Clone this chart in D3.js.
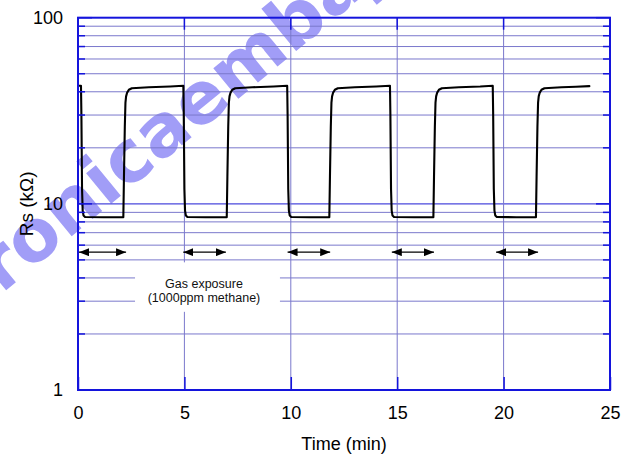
<!DOCTYPE html>
<html><head><meta charset="utf-8">
<script src="https://cdn.jsdelivr.net/npm/d3@7"></script>
<style>body{margin:0;background:#fff}svg{display:block}</style>
</head><body>
<script>
// ---- data ----
const timeMin = [
  0.00, 0.12, 0.14, 0.16, 0.19, 0.22, 0.26, 0.33, 1.20,
  2.13, 2.16, 2.20, 2.23, 2.26, 2.31, 2.39, 2.53, 3.33, 4.33, 4.95,
  4.97, 5.00, 5.03, 5.07, 5.14, 6.00,
  6.99, 7.02, 7.06, 7.09, 7.12, 7.17, 7.25, 7.39, 8.19, 9.19, 9.83,
  9.85, 9.88, 9.91, 9.95, 10.02, 10.90,
  11.81, 11.84, 11.88, 11.91, 11.94, 11.99, 12.07, 12.21, 13.01, 14.01, 14.66,
  14.68, 14.71, 14.74, 14.78, 14.85, 15.80,
  16.70, 16.73, 16.77, 16.80, 16.83, 16.88, 16.96, 17.10, 17.90, 18.90, 19.49,
  19.51, 19.54, 19.57, 19.61, 19.68, 20.60,
  21.52, 21.55, 21.59, 21.62, 21.65, 21.70, 21.78, 21.92, 22.72, 23.40, 24.03
];
const rsKOhm = [
  43.1, 43.1, 43.1, 30, 12, 9.2, 8.65, 8.5, 8.48,
  8.48, 14, 26, 35, 37.8, 39.6, 41.0, 41.8, 42.3, 42.7, 43.1,
  30, 12, 9.2, 8.65, 8.5, 8.48,
  8.48, 14, 26, 35, 37.8, 39.6, 41.0, 41.8, 42.3, 42.7, 43.1,
  30, 12, 9.2, 8.65, 8.5, 8.48,
  8.48, 14, 26, 35, 37.8, 39.6, 41.0, 41.8, 42.3, 42.7, 43.1,
  30, 12, 9.2, 8.65, 8.5, 8.48,
  8.48, 14, 26, 35, 37.8, 39.6, 41.0, 41.8, 42.3, 42.7, 43.1,
  30, 12, 9.2, 8.65, 8.5, 8.48,
  8.48, 14, 26, 35, 37.8, 39.6, 41.0, 41.8, 42.3, 42.6, 42.9
];
const exposureStart = [0, 4.9, 9.8, 14.7, 19.6];
const exposureEnd   = [2.26, 6.95, 11.85, 16.73, 21.62];
const xTickValues = [0, 5, 10, 15, 20, 25];
const yTickValues = [1, 10, 100];
const xTitle = "Time (min)";
const yTitle = "Rs (kΩ)";
const noteLines = ["Gas exposure", "(1000ppm methane)"];
const watermark = "electronicaembajadores";

// ---- layout ----
const W = 632, H = 456;
const FONT = "'Liberation Sans', Arial, sans-serif";
const GRID = "#7a78cc", AXIS = "#1414dc";
const svg = d3.select("body").append("svg").attr("width", W).attr("height", H)
  .style("font-family", FONT);
const x = d3.scaleLinear().domain([0, 25]).range([78, 610]);
const y = d3.scaleLog().domain([1, 100]).range([390, 17.7]);

// watermark (behind everything)
const wm = svg.append("text").attr("font-size", 72).attr("font-weight", "bold")
  .attr("font-family", "'DejaVu Sans', sans-serif")
  .attr("fill", "#a19df7").text(watermark);
const off = wm.node().getSubStringLength(0, 7);
wm.attr("transform", "translate(67,240) rotate(-39.5)").attr("x", -off);

// grid
const minorY = y.ticks().filter(v => !yTickValues.includes(v));
const g = svg.append("g");
g.selectAll(".gy").data(minorY).join("line")
  .attr("x1", x(0)).attr("x2", x(25)).attr("y1", d => y(d)).attr("y2", d => y(d))
  .attr("stroke", GRID).attr("stroke-width", 1);
g.append("line").attr("x1", x(0)).attr("x2", x(25)).attr("y1", y(10)).attr("y2", y(10))
  .attr("stroke", "#4a48dc").attr("stroke-width", 1.3);
g.selectAll(".gx").data(xTickValues.filter(v => v > 0 && v < 25)).join("line")
  .attr("x1", d => x(d)).attr("x2", d => x(d)).attr("y1", y(1)).attr("y2", y(100))
  .attr("stroke", GRID).attr("stroke-width", 1);

// annotation box
svg.append("rect").attr("x", x(2.68)).attr("width", x(9.49) - x(2.68))
  .attr("y", y(4.85)).attr("height", y(2.63) - y(4.85)).attr("fill", "#fff");
svg.append("g").selectAll("text").data(noteLines).join("text")
  .attr("x", x(5.92)).attr("y", (d, i) => y(3.55) + i * 14)
  .attr("text-anchor", "middle").attr("font-size", 12.5).attr("fill", "#111").text(d => d);

// arrows
const ay = y(5.5);
svg.append("defs").append("marker").attr("id", "ah").attr("viewBox", "0 0 10 8")
  .attr("refX", 10).attr("refY", 4).attr("markerWidth", 10).attr("markerHeight", 8)
  .attr("markerUnits", "userSpaceOnUse").attr("orient", "auto-start-reverse")
  .append("path").attr("d", "M0,0L10,4L0,8Z").attr("fill", "#000");
svg.append("g").selectAll("line").data(exposureStart).join("line")
  .attr("x1", d => x(d) + 1).attr("x2", (d, i) => x(exposureEnd[i]))
  .attr("y1", ay).attr("y2", ay).attr("stroke", "#000").attr("stroke-width", 1.3)
  .attr("marker-start", "url(#ah)").attr("marker-end", "url(#ah)");

// curve
const pts = timeMin.map((t, i) => [t, rsKOhm[i]]);
svg.append("path").datum(pts)
  .attr("d", d3.line().x(d => x(d[0])).y(d => y(d[1])).curve(d3.curveLinear))
  .attr("fill", "none").attr("stroke", "#000").attr("stroke-width", 2.1)
  .attr("stroke-linejoin", "round").attr("stroke-linecap", "round");

// minor ticks left/right
const tk = svg.append("g").attr("stroke", AXIS).attr("stroke-width", 1.5);
tk.selectAll(".ml").data(minorY).join("line")
  .attr("x1", x(0)).attr("x2", x(0) + 7).attr("y1", d => y(d)).attr("y2", d => y(d));
tk.selectAll(".mr").data(minorY).join("line")
  .attr("x1", x(25)).attr("x2", x(25) - 7).attr("y1", d => y(d)).attr("y2", d => y(d));
tk.selectAll(".Ml").data(yTickValues).join("line")
  .attr("x1", x(0)).attr("x2", x(0) + 14).attr("y1", d => y(d)).attr("y2", d => y(d));
tk.selectAll(".Mr").data(yTickValues).join("line")
  .attr("x1", x(25)).attr("x2", x(25) - 14).attr("y1", d => y(d)).attr("y2", d => y(d));
tk.selectAll(".xt").data(xTickValues).join("line")
  .attr("x1", d => x(d)).attr("x2", d => x(d)).attr("y1", y(100)).attr("y2", y(100) + 12);

// axes (labels + bottom ticks)
const xa = svg.append("g").attr("transform", `translate(0,${y(1)})`)
  .call(d3.axisBottom(x).tickValues(xTickValues).tickFormat(d3.format("d"))
    .tickSizeInner(-13).tickSizeOuter(0).tickPadding(16));
xa.select(".domain").remove();
xa.selectAll(".tick line").attr("stroke", AXIS).attr("stroke-width", 1.5);
xa.selectAll("text").attr("font-size", 18).attr("font-family", FONT).attr("fill", "#000");

const ya = svg.append("g").attr("transform", `translate(${x(0)},0)`)
  .call(d3.axisLeft(y).tickValues(yTickValues).tickFormat(d3.format("d"))
    .tickSizeInner(0).tickSizeOuter(0).tickPadding(15));
ya.select(".domain").remove();
ya.selectAll("text").attr("font-size", 18).attr("font-family", FONT).attr("fill", "#000");

// frame
svg.append("rect").attr("x", x(0)).attr("y", y(100))
  .attr("width", x(25) - x(0)).attr("height", y(1) - y(100))
  .attr("fill", "none").attr("stroke", AXIS).attr("stroke-width", 2);

// titles
svg.append("text").attr("x", (x(0) + x(25)) / 2).attr("y", 450)
  .attr("text-anchor", "middle").attr("font-size", 18).text(xTitle);
svg.append("text").attr("transform", `translate(33,${y(10)}) rotate(-90)`)
  .attr("text-anchor", "middle").attr("font-size", 19).text(yTitle);
</script>
</body></html>
